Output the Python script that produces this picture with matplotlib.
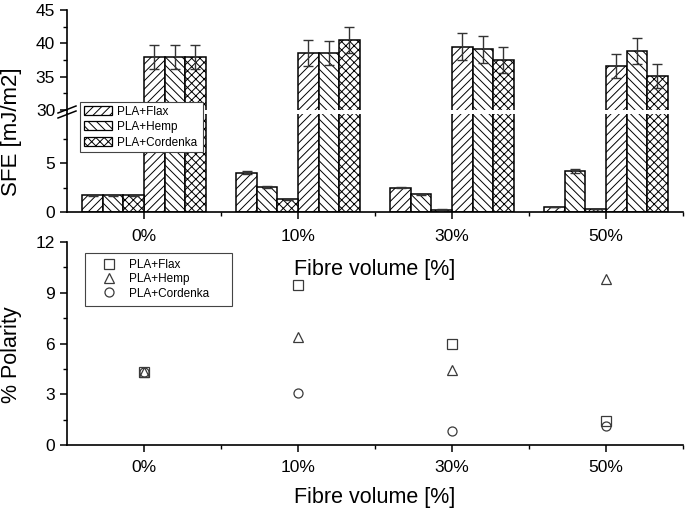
import numpy as np
import matplotlib
matplotlib.use("Agg")
import matplotlib.pyplot as plt
from matplotlib.patches import Patch
from matplotlib.lines import Line2D
from matplotlib.ticker import FixedLocator

plt.rcParams['font.family'] = ['Liberation Sans', 'DejaVu Sans']
plt.rcParams['hatch.linewidth'] = 0.7

# ---- data ----
categories = ['0%', '10%', '30%', '50%']
series = ['PLA+Flax', 'PLA+Hemp', 'PLA+Cordenka']

polar_flax = [1.7, 4.0, 2.5, 0.5]
polar_hemp = [1.7, 2.6, 1.8, 4.2]
polar_cord = [1.7, 1.3, 0.25, 0.3]
polar_flax_err = [0.08, 0.15, 0.08, 0.03]
polar_hemp_err = [0.08, 0.1, 0.06, 0.2]
polar_cord_err = [0.08, 0.05, 0.03, 0.03]

total_flax = [37.9, 38.5, 39.5, 36.6]
total_hemp = [37.9, 38.5, 39.1, 38.85]
total_cord = [37.9, 40.5, 37.5, 35.15]
total_flax_err = [1.8, 1.95, 2.0, 1.75]
total_hemp_err = [1.8, 1.8, 2.0, 1.9]
total_cord_err = [1.8, 2.0, 1.9, 1.8]

polarity_flax = [4.3, 9.45, 6.0, 1.4]
polarity_hemp = [4.3, 6.4, 4.45, 9.8]
polarity_cord = [4.3, 3.1, 0.8, 1.15]

hatches = ['////', '\\\\\\\\', 'xxxx']
markers = ['s', '^', 'o']

W, H = 685, 513
fig = plt.figure(figsize=(W / 100, H / 100), dpi=100)

def fx(px):
    return px / W

def fy(py):
    return 1 - py / H

L, R = 67, 683
ax_up = fig.add_axes([fx(L), fy(110), fx(R) - fx(L), (110 - 10) / H])
ax_lo = fig.add_axes([fx(L), fy(212), fx(R) - fx(L), (212 - 114) / H])
ax_p = fig.add_axes([fx(L), fy(445), fx(R) - fx(L), (445 - 242) / H])

x = np.arange(len(categories))
bw = 0.8 / 6
polar = [polar_flax, polar_hemp, polar_cord]
polar_err = [polar_flax_err, polar_hemp_err, polar_cord_err]
total = [total_flax, total_hemp, total_cord]
total_err = [total_flax_err, total_hemp_err, total_cord_err]

for ax in (ax_up, ax_lo):
    for i in range(3):
        off_p = (i - 2.5) * bw
        off_t = (i + 3 - 2.5) * bw
        ax.bar(x + off_p, polar[i], width=bw, facecolor='white', edgecolor='black',
               linewidth=1.1, hatch=hatches[i], zorder=2)
        ax.bar(x + off_t, total[i], width=bw, facecolor='white', edgecolor='black',
               linewidth=1.1, hatch=hatches[i], zorder=2)
        ax.errorbar(x + off_p, polar[i], yerr=polar_err[i], fmt='none', ecolor='#333333',
                    elinewidth=1.0, capsize=3.5, capthick=1.0, zorder=3)
        ax.errorbar(x + off_t, total[i], yerr=total_err[i], fmt='none', ecolor='#333333',
                    elinewidth=1.0, capsize=3.5, capthick=1.0, zorder=3)
    ax.set_xlim(-0.5, 3.5)
    for s in ('top', 'right'):
        ax.spines[s].set_visible(False)
    for s in ('left', 'bottom'):
        ax.spines[s].set_linewidth(1.2)

ax_up.set_ylim(30, 45)
ax_up.set_yticks([30, 35, 40, 45])
ax_up.yaxis.set_minor_locator(FixedLocator([32.5, 37.5, 42.5]))
ax_up.spines['bottom'].set_visible(False)
ax_up.tick_params(axis='x', which='both', bottom=False, labelbottom=False)

ax_lo.set_ylim(0, 10)
ax_lo.set_yticks([0, 5])
ax_lo.yaxis.set_minor_locator(FixedLocator([2.5, 7.5]))
ax_lo.set_xticks(x)
ax_lo.set_xticklabels(categories)
ax_lo.xaxis.set_minor_locator(FixedLocator([0.5, 1.5, 2.5, 3.5]))

polarity = [polarity_flax, polarity_hemp, polarity_cord]
for i in range(3):
    ax_p.plot(x, polarity[i], linestyle='none',
              marker=markers[i], markersize=6.5, markerfacecolor='none',
              markeredgecolor='#3a3a3a', markeredgewidth=0.9, label=series[i])
ax_p.set_xlim(-0.5, 3.5)
ax_p.set_ylim(0, 12)
ax_p.set_yticks([0, 3, 6, 9, 12])
ax_p.yaxis.set_minor_locator(FixedLocator([1.5, 4.5, 7.5, 10.5]))
ax_p.set_xticks(x)
ax_p.set_xticklabels(categories)
ax_p.xaxis.set_minor_locator(FixedLocator([0.5, 1.5, 2.5, 3.5]))
for s in ('top', 'right'):
    ax_p.spines[s].set_visible(False)
for s in ('left', 'bottom'):
    ax_p.spines[s].set_linewidth(1.2)

for ax in (ax_up, ax_lo, ax_p):
    ax.tick_params(axis='both', which='major', direction='out', length=5, width=1.1,
                   labelsize=12.5, colors='black')
    ax.tick_params(axis='both', which='minor', direction='out', length=3, width=1.0)
    ax.set_facecolor('none')

ax_lo.tick_params(axis='x', which='major', pad=7)
ax_p.tick_params(axis='x', which='major', pad=6)

# axis break marks
for dy in (0, 5):
    fig.add_artist(Line2D([fx(58), fx(76)], [fy(113 + dy), fy(106 + dy)],
                          color='black', linewidth=1.1))
fig.add_artist(Line2D([fx(L), fx(L)], [fy(110), fy(114)], color='black', linewidth=1.2))

# labels
fig.text(fx(12), fy(132), 'SFE [mJ/m2]', rotation=90, ha='center', va='center', fontsize=16)
fig.text(fx(12), fy(355), '% Polarity', rotation=90, ha='center', va='center', fontsize=15.5)
fig.text(fx(375), fy(270), 'Fibre volume [%]', ha='center', va='center', fontsize=15.5)
fig.text(fx(375), fy(498), 'Fibre volume [%]', ha='center', va='center', fontsize=15.5)

# legends
handles = [Patch(facecolor='white', edgecolor='black', hatch=h, linewidth=0.9) for h in hatches]
leg1 = fig.legend(handles, series, loc='upper left',
                  bbox_to_anchor=(fx(80), fy(148), fx(203) - fx(80), (148 - 102) / H),
                  bbox_transform=fig.transFigure, mode='expand', borderaxespad=0, fontsize=8.5,
                  fancybox=False, framealpha=1, edgecolor='#444444', handlelength=2.4,
                  handleheight=0.8, labelspacing=0.3, borderpad=0.3, handletextpad=0.4)
leg1.get_frame().set_linewidth(0.8)

leg2 = ax_p.legend(loc='upper left',
                   bbox_to_anchor=(fx(85), fy(307), fx(232) - fx(85), (307 - 253) / H),
                   bbox_transform=fig.transFigure, mode='expand', borderaxespad=0, fontsize=8.5,
                   fancybox=False, framealpha=1, edgecolor='#444444', handlelength=3.0,
                   labelspacing=0.2, borderpad=0.5, handletextpad=0.2)
leg2.get_frame().set_linewidth(0.8)

fig.savefig('out.png', dpi=100)
